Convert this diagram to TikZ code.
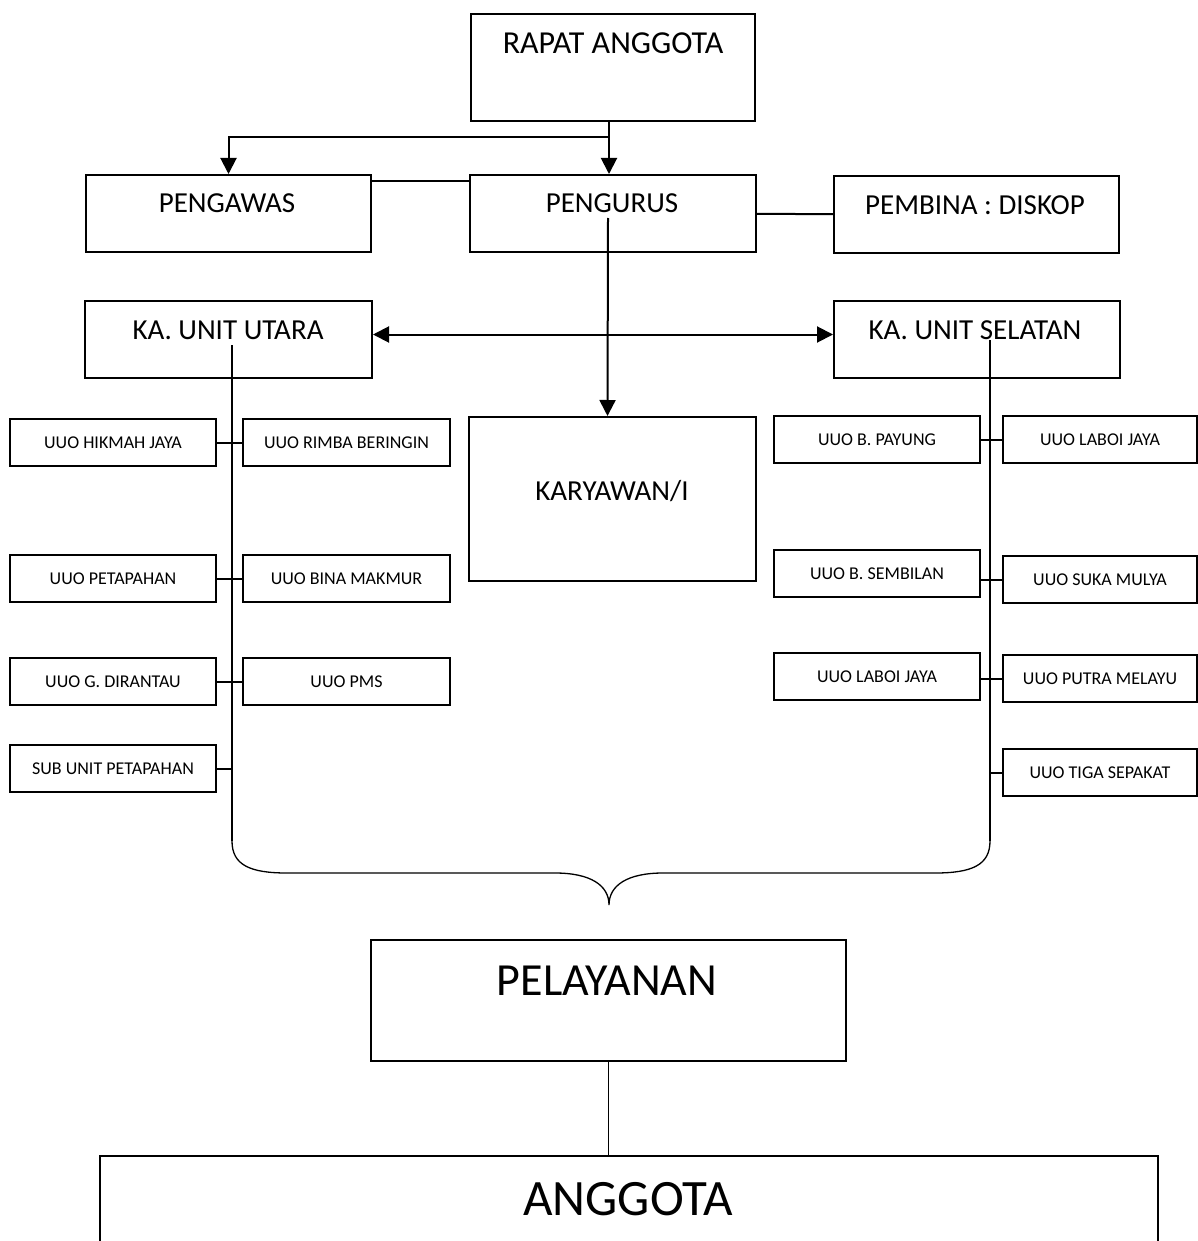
\documentclass[tikz,border=0pt]{standalone}
\usepackage{fontspec}
\setmainfont{Carlito}
\usetikzlibrary{arrows.meta,calc}

\tikzset{
  bigtri/.tip={Triangle[length=16pt,width=16pt]},
  box/.style={draw, line width=2pt, inner sep=0pt, anchor=north west},
  bigbox/.style={box, minimum width=285, minimum height=77},
  unitbox/.style={box, minimum width=206, minimum height=47, font=\fontsize{18}{22}\selectfont},
  head/.style={inner sep=0pt, font=\fontsize{29}{34}\selectfont},
  link/.style={line width=2pt},
  thinlink/.style={line width=1.3pt},
  arr/.style={link, -bigtri},
  dbl/.style={link, bigtri-bigtri}
}

\begin{document}
\begin{tikzpicture}[x=1pt,y=1pt,yscale=-1,xscale=1]
\useasboundingbox (0,0) rectangle (1197,1241);

% Boxes
\node (rapat) [box, minimum width=284, minimum height=107] at (470,13) {};
\node (pengawas) [bigbox] at (85,174) {};
\node (pengurus) [bigbox, minimum width=286] at (469,174) {};
\node (pembina) [bigbox] at (833,175) {};
\node (utara) [bigbox, minimum width=287] at (84,300) {};
\node (selatan) [bigbox, minimum width=286] at (833,300) {};
\node (karyawan) [bigbox, minimum width=287, minimum height=164] at (468,416) {};
\node (pelayanan) [box, line width=1.6pt, minimum width=475, minimum height=121] at (370,939) {};
\node (anggota) [box, line width=1.6pt, minimum width=1058, minimum height=130] at (99,1155) {};

% Text Node
\node [head, font=\fontsize{32}{38}\selectfont] at (613,43) {RAPAT ANGGOTA};
\node [head] at (227,203) {PENGAWAS};
\node [head] at (612,203) {PENGURUS};
\node [head] at (975,205) {PEMBINA : DISKOP};
\node [head] at (228,330) {KA. UNIT UTARA};
\node [head] at (975,330) {KA. UNIT SELATAN};
\node [head] at (612,491) {KARYAWAN/I};
\node [head, font=\fontsize{46}{54}\selectfont] at (607,981) {PELAYANAN};
\node [head, font=\fontsize{51}{60}\selectfont] at (628,1199) {ANGGOTA};

% Unit boxes north
\node (hikmah) [unitbox] at (9,418) {UUO HIKMAH JAYA};
\node (petapahan) [unitbox] at (9,554) {UUO PETAPAHAN};
\node (dirantau) [unitbox] at (9,657) {UUO G. DIRANTAU};
\node (subunit) [unitbox] at (9,744) {SUB UNIT PETAPAHAN};
\node (rimba) [unitbox, minimum width=207] at (242,418) {UUO RIMBA BERINGIN};
\node (bina) [unitbox, minimum width=207] at (242,554) {UUO BINA MAKMUR};
\node (pms) [unitbox, minimum width=207] at (242,657) {UUO PMS};

% Unit boxes south
\node (payung) [unitbox] at (773,415) {UUO B. PAYUNG};
\node (sembilan) [unitbox] at (773,549) {UUO B. SEMBILAN};
\node (laboiA) [unitbox] at (773,652) {UUO LABOI JAYA};
\node (laboiB) [unitbox, minimum width=194] at (1002,415) {UUO LABOI JAYA};
\node (suka) [unitbox, minimum width=194] at (1002,555) {UUO SUKA MULYA};
\node (putra) [unitbox, minimum width=194] at (1002,654) {UUO PUTRA MELAYU};
\node (tiga) [unitbox, minimum width=194] at (1002,748) {UUO TIGA SEPAKAT};

% Arrows top
\coordinate (split) at (609,137);
\draw [arr] (split |- rapat.south) -- (split |- pengurus.north);
\draw [arr] (split) -| (pengawas);
\draw [link] ($(pengawas.north east)+(0,7)$) -- ($(pengurus.north west)+(0,7)$);
\draw [link] (pengurus) -- (pembina);
\draw [arr] ($(pengurus.north)+(-5,44)$) -- ($(karyawan.north)+(-5,0)$);
\draw [dbl] ($(utara.east)+(0,-5)$) -- ($(selatan.west)+(0,-5)$);

% Trunks
\coordinate (utaratop) at (232,345);
\coordinate (utarabot) at (232,841);
\coordinate (selatantop) at (990,340);
\coordinate (selatanbot) at (990,841);
\draw [link] (utaratop) -- (utarabot);
\draw [link] (selatantop) -- (selatanbot);

% Stubs
\draw [link] (hikmah) -- (rimba);
\draw [link] (petapahan) -- (bina);
\draw [link] (dirantau) -- (pms);
\draw [link] (subunit.east) -- (subunit.east -| utaratop);
\draw [link] (payung) -- (laboiB);
\draw [link] (sembilan.east |- suka.west) -- (suka.west);
\draw [link] (laboiA.east |- putra.west) -- (putra.west);
\draw [link] (tiga.west -| selatantop) -- (tiga.west);

% Brace
\draw [thinlink] (utarabot) .. controls (232,865) and (250,873) .. (287,873) -- (555,873)
  .. controls (590,873) and (609,885) .. (609,905)
  .. controls (609,885) and (628,873) .. (663,873) -- (935,873)
  .. controls (972,873) and (990,865) .. (selatanbot);

\draw [thinlink] (pelayanan.south) -- (pelayanan.south |- anggota.north);

\end{tikzpicture}
\end{document}
